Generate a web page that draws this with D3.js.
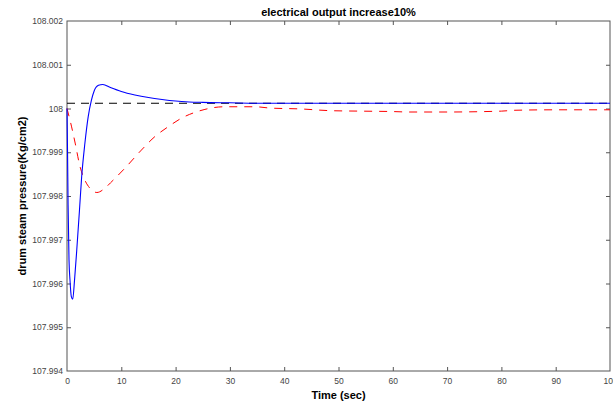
<!DOCTYPE html>
<html>
<head>
<meta charset="utf-8">
<script src="https://cdn.jsdelivr.net/npm/d3@7"></script>
<style>
  body { margin: 0; background: #fff; }
  text { font-family: "Liberation Sans", Arial, Helvetica, sans-serif; }
  .tick text { fill: #444; font-size: 8.5px; }
  .tick line { stroke: #555; }
  .domain { display: none; }
</style>
</head>
<body>
<div id="chart"></div>
<script>
// time (sec) and drum pressure values
var blueTime  = [0, 0.1, 0.2, 0.37, 0.55, 0.8, 1.05, 1.4, 1.8, 2.3, 2.7, 3.3, 3.9, 4.5, 5.0, 5.8, 6.6, 8, 10, 12.5, 15, 17.5, 20, 22.5, 25, 30, 35, 40, 60, 80, 100];
var blueValue = [108.0, 107.9990, 107.9978, 107.99654, 107.99608, 107.9957, 107.99564, 107.9961, 107.99677, 107.99768, 107.99844, 107.99921, 107.99981, 108.00019, 108.0004, 108.00053, 108.00055, 108.00048, 108.00039, 108.00031, 108.00025, 108.000205, 108.00017, 108.00015, 108.00014, 108.00013, 108.00012, 108.00012, 108.00012, 108.00012, 108.00012];

var redTime  = [0, 0.85, 1.5, 2.4, 3.3, 4.2, 5.5, 7, 8, 10.7, 13.7, 16.2, 18.6, 21.1, 24, 25.4, 29, 34.6, 37.4, 43, 48.6, 54, 60, 63, 70, 80, 82.5, 90, 100];
var redValue = [108.0, 107.99958, 107.99921, 107.99867, 107.99836, 107.99818, 107.99808, 107.99818, 107.9983, 107.99864, 107.99905, 107.99936, 107.99958, 107.99978, 107.99993, 107.99998, 108.00004, 108.00004, 108.00001, 107.99999, 107.99995, 107.99994, 107.99993, 107.99992, 107.99992, 107.99994, 107.99996, 107.99997, 107.99997];

var refTime  = [0, 100];
var refValue = [108.00012, 108.00012];

var xTicks = [0, 10, 20, 30, 40, 50, 60, 70, 80, 90, 100];
var yTicks = [107.994, 107.995, 107.996, 107.997, 107.998, 107.999, 108.0, 108.001, 108.002];

var W = 613, H = 402;
var margin = {top: 21, right: 3, bottom: 31, left: 67};
var width = W - margin.left - margin.right,
    height = H - margin.top - margin.bottom;

var svg = d3.select("#chart").append("svg")
    .attr("width", W)
    .attr("height", H);

var g = svg.append("g")
    .attr("transform", "translate(" + margin.left + "," + margin.top + ")");

var x = d3.scaleLinear().domain([0, 100]).range([0, width]);
var y = d3.scaleLinear().domain([107.994, 108.002]).range([height, 0]);

function fmt(d) { return String(+d.toFixed(3)); }

// axes, ticks pointing inward like matlab
g.append("g")
    .attr("transform", "translate(0," + height + ")")
    .call(d3.axisBottom(x).tickValues(xTicks).tickFormat(fmt).tickSizeInner(-4).tickSizeOuter(0).tickPadding(7));
g.append("g")
    .call(d3.axisTop(x).tickValues(xTicks).tickFormat("").tickSizeInner(-4).tickSizeOuter(0));
g.append("g")
    .call(d3.axisLeft(y).tickValues(yTicks).tickFormat(fmt).tickSizeInner(-4).tickSizeOuter(0).tickPadding(4));
g.append("g")
    .attr("transform", "translate(" + width + ",0)")
    .call(d3.axisRight(y).tickValues(yTicks).tickFormat("").tickSizeInner(-4).tickSizeOuter(0));

// remove end ticks that sit on the box
g.selectAll(".tick line").filter(function(d) {
    return d === 0 || d === 100 || d === 107.994 || d === 108.002;
}).remove();

g.append("rect")
    .attr("width", width)
    .attr("height", height)
    .style("fill", "none")
    .style("stroke", "#555")
    .style("stroke-width", 1);

var line = d3.line()
    .x(function(d) { return x(d[0]); })
    .y(function(d) { return y(d[1]); })
    .curve(d3.curveMonotoneX);

function pairs(t, v) { return t.map(function(d, i) { return [d, v[i]]; }); }

g.append("path")
    .attr("d", line(pairs(refTime, refValue)))
    .style("fill", "none")
    .style("stroke", "#000")
    .style("stroke-width", 1)
    .style("stroke-dasharray", "8,6");

g.append("path")
    .attr("d", line(pairs(redTime, redValue)))
    .style("fill", "none")
    .style("stroke", "#ff0000")
    .style("stroke-width", 1)
    .style("stroke-dasharray", "8,7");

g.append("path")
    .attr("d", line(pairs(blueTime, blueValue)))
    .style("fill", "none")
    .style("stroke", "#0000ff")
    .style("stroke-width", 1.1);

// labels
svg.append("text")
    .attr("x", margin.left + width / 2)
    .attr("y", 16)
    .attr("text-anchor", "middle")
    .style("font-size", "11px")
    .style("font-weight", "bold")
    .text("electrical output increase10%");

svg.append("text")
    .attr("x", margin.left + width / 2)
    .attr("y", 399)
    .attr("text-anchor", "middle")
    .style("font-size", "11px")
    .style("font-weight", "bold")
    .text("Time (sec)");

svg.append("text")
    .attr("transform", "translate(26," + (margin.top + height / 2) + ") rotate(-90)")
    .attr("text-anchor", "middle")
    .style("font-size", "11px")
    .style("font-weight", "bold")
    .text("drum steam pressure(Kg/cm2)");
</script>
</body>
</html>
